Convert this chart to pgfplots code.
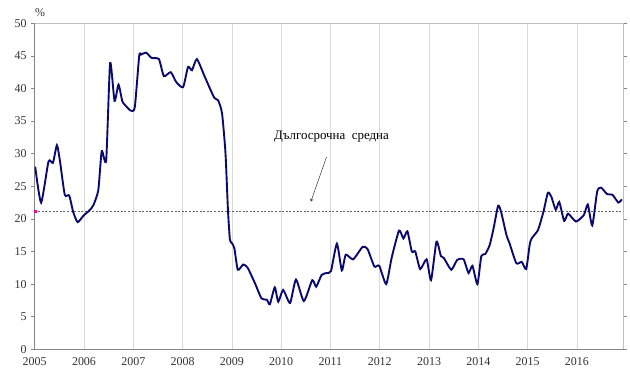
\documentclass[border=0pt]{standalone}
\usepackage{pgfplots}
\pgfplotsset{compat=1.18}
\usepackage{fontspec}
\setmainfont{Liberation Serif}
\definecolor{lineblue}{RGB}{10,10,110}
\definecolor{gridgray}{RGB}{217,217,217}
\definecolor{axgray}{RGB}{134,134,134}
\definecolor{framegray}{RGB}{190,190,190}
\definecolor{dashgray}{RGB}{100,100,100}
\begin{document}
\begin{tikzpicture}
\begin{axis}[
  scale only axis, width=588.6bp, height=326bp,
  xmin=2005, xmax=2016.94, ymin=0, ymax=50,
  axis line style={draw=none},
  xtick={2005,...,2016},
  xticklabels={2005,2006,2007,2008,2009,2010,2011,2012,2013,2014,2015,2016},
  ytick={0,5,...,50},
  xmajorgrids, grid style={gridgray, line width=0.7pt},
  major x tick style={draw=none},
  major y tick style={axgray, line width=0.6pt},
  tick align=outside, major tick length=4bp,
  ymajorgrids=false,
  /pgf/number format/assume math mode=true,
  ticklabel style={font=\fontsize{12}{14}\selectfont, text=black!80},
  yticklabel style={xshift=-0.5bp},
  xticklabel style={yshift=-1bp},
  clip mode=individual,
]
\draw[framegray, line width=0.8pt] (rel axis cs:0,1) -- (rel axis cs:1,1) -- (rel axis cs:1,0);
\draw[axgray, line width=0.9pt] (rel axis cs:0,1) -- (rel axis cs:0,0) -- (rel axis cs:1,0);
\addplot[dashgray, line width=0.7pt, dash pattern=on 2pt off 1.6pt] coordinates {(2005,21.2) (2016.94,21.2)};
\addplot[only marks, mark=square*, mark size=1bp, magenta] coordinates {(2005,21.2)};
\addplot[lineblue, line width=1.9pt, smooth, tension=0.35] coordinates {
(2005.01,28.0) (2005.13,22.5) (2005.28,28.8) (2005.37,28.6) (2005.45,31.3) (2005.51,29.0)
(2005.61,23.7) (2005.70,23.6) (2005.78,21.1) (2005.87,19.5) (2005.99,20.5) (2006.11,21.3)
(2006.19,22.1) (2006.29,24.4) (2006.36,30.4) (2006.45,29.0) (2006.53,43.9) (2006.62,38.1)
(2006.70,40.6) (2006.78,38.0) (2006.89,37.0) (2006.95,36.6) (2007.03,37.1) (2007.12,45.0)
(2007.16,45.2) (2007.26,45.5) (2007.37,44.7) (2007.52,44.5) (2007.62,41.9) (2007.76,42.5)
(2007.87,41.0) (2008.01,40.2) (2008.11,43.3) (2008.19,42.8) (2008.29,44.5) (2008.45,41.8)
(2008.64,38.6) (2008.72,38.2) (2008.80,36.2) (2008.87,30.1) (2008.92,21.4) (2008.96,16.8)
(2009.00,16.3) (2009.05,15.5) (2009.12,12.2) (2009.23,13.0) (2009.32,12.5) (2009.47,10.1)
(2009.60,7.8) (2009.71,7.6) (2009.77,6.9) (2009.87,9.5) (2009.94,7.3) (2010.04,9.1)
(2010.18,7.1) (2010.30,10.7) (2010.46,7.4) (2010.63,10.6) (2010.71,9.6) (2010.82,11.4)
(2010.92,11.7) (2011.01,12.0) (2011.13,16.2) (2011.23,12.1) (2011.31,14.5) (2011.46,13.8)
(2011.65,15.7) (2011.75,15.4) (2011.89,12.7) (2011.99,12.8) (2012.13,10.0) (2012.24,14.0)
(2012.39,18.2) (2012.48,17.0) (2012.56,18.1) (2012.65,15.0) (2012.72,15.0) (2012.82,12.3)
(2012.95,13.8) (2013.04,10.6) (2013.15,16.5) (2013.24,14.3) (2013.30,14.0) (2013.45,12.2)
(2013.57,13.7) (2013.70,13.8) (2013.80,11.7) (2013.88,12.8) (2013.98,10.0) (2014.06,14.3)
(2014.14,14.6) (2014.23,16.0) (2014.31,18.6) (2014.40,22.0) (2014.46,21.1) (2014.57,17.5)
(2014.63,16.3) (2014.77,13.2) (2014.88,13.4) (2014.97,12.3) (2015.04,16.0) (2015.08,17.0)
(2015.21,18.3) (2015.32,21.1) (2015.41,24.0) (2015.48,23.4) (2015.57,21.4) (2015.64,22.6)
(2015.74,19.7) (2015.82,20.8) (2015.98,19.6) (2016.14,20.6) (2016.22,22.2) (2016.31,19.0)
(2016.41,24.2) (2016.49,24.8) (2016.61,23.8) (2016.72,23.7) (2016.84,22.5) (2016.91,23.0)
};
\node[font=\fontsize{13}{15}\selectfont] at (axis cs:2011.02,32.6) {Дългосрочна\ \ средна};
\draw[-stealth, black!80, line width=0.5pt] (axis cs:2010.92,29.5) -- (axis cs:2010.60,22.6);
\node[font=\fontsize{12}{14}\selectfont, text=black!80] at (axis cs:2005.11,51.7) {\%};
\end{axis}
\pgfresetboundingbox
\useasboundingbox ([shift={(-34.7bp,-24.7bp)}]current axis.south west) rectangle ([shift={(6.7bp,23.3bp)}]current axis.north east);
\end{tikzpicture}
\end{document}
